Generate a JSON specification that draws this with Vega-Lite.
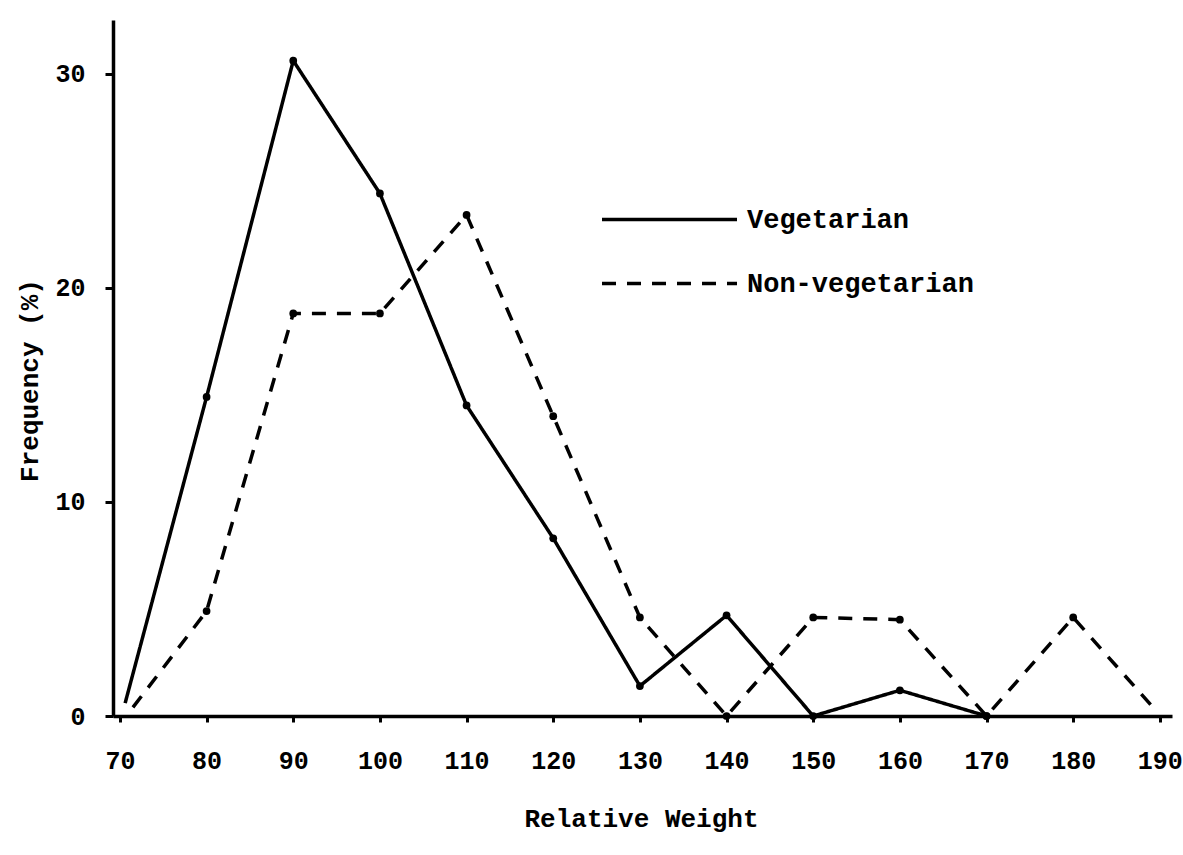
{
  "$schema": "https://vega.github.io/schema/vega-lite/v6.json",
  "autosize": "none",
  "width": 1059,
  "height": 696,
  "padding": {"left": 113, "top": 20, "right": 11, "bottom": 139},
  "background": "white",
  "config": {
    "view": {"stroke": null},
    "font": "Liberation Mono",
    "axis": {
      "domainColor": "black", "domainWidth": 3.5,
      "tickColor": "black", "tickWidth": 3,
      "labelColor": "black", "labelFont": "Liberation Mono", "labelFontWeight": "bold", "labelFontSize": 25,
      "titleColor": "black", "titleFont": "Liberation Mono", "titleFontWeight": "bold", "titleFontSize": 26,
      "grid": false
    }
  },
  "data": {"values": [
    {"series": "Vegetarian", "weight": 70.6, "freq": 0.6},
    {"series": "Vegetarian", "weight": 80, "freq": 14.9},
    {"series": "Vegetarian", "weight": 90, "freq": 30.6},
    {"series": "Vegetarian", "weight": 100, "freq": 24.4},
    {"series": "Vegetarian", "weight": 110, "freq": 14.5},
    {"series": "Vegetarian", "weight": 120, "freq": 8.3},
    {"series": "Vegetarian", "weight": 130, "freq": 1.4},
    {"series": "Vegetarian", "weight": 140, "freq": 4.7},
    {"series": "Vegetarian", "weight": 150, "freq": 0},
    {"series": "Vegetarian", "weight": 160, "freq": 1.2},
    {"series": "Vegetarian", "weight": 170, "freq": 0},
    {"series": "Non-vegetarian", "weight": 71.5, "freq": 0.4},
    {"series": "Non-vegetarian", "weight": 80, "freq": 4.9},
    {"series": "Non-vegetarian", "weight": 90, "freq": 18.8},
    {"series": "Non-vegetarian", "weight": 100, "freq": 18.8},
    {"series": "Non-vegetarian", "weight": 110, "freq": 23.4},
    {"series": "Non-vegetarian", "weight": 120, "freq": 14.0},
    {"series": "Non-vegetarian", "weight": 130, "freq": 4.6},
    {"series": "Non-vegetarian", "weight": 140, "freq": 0},
    {"series": "Non-vegetarian", "weight": 150, "freq": 4.6},
    {"series": "Non-vegetarian", "weight": 160, "freq": 4.5},
    {"series": "Non-vegetarian", "weight": 170, "freq": 0},
    {"series": "Non-vegetarian", "weight": 180, "freq": 4.6},
    {"series": "Non-vegetarian", "weight": 189, "freq": 0.5}
  ]},
  "encoding": {
    "x": {
      "field": "weight", "type": "quantitative",
      "scale": {"domain": [69.2, 191.4], "nice": false, "zero": false},
      "axis": {
        "values": [70, 80, 90, 100, 110, 120, 130, 140, 150, 160, 170, 180, 190],
        "tickSize": 6, "labelPadding": 26, "labelFlush": false,
        "title": "Relative Weight", "titleX": 528, "titleY": 102, "titleBaseline": "middle", "titleAlign": "center"
      }
    },
    "y": {
      "field": "freq", "type": "quantitative",
      "scale": {"domain": [0, 32.5], "nice": false},
      "axis": {
        "values": [0, 10, 20, 30],
        "tickSize": 8, "labelPadding": 20,
        "title": "Frequency (%)", "titleX": -84, "titleY": 360, "titleBaseline": "middle", "titleAlign": "center"
      }
    }
  },
  "layer": [
    {
      "mark": {"type": "line", "color": "black", "strokeWidth": 3.5},
      "encoding": {
        "strokeDash": {
          "field": "series", "type": "nominal",
          "scale": {"domain": ["Vegetarian", "Non-vegetarian"], "range": [[1, 0], [14, 11]]},
          "legend": {
            "title": null, "orient": "none", "legendX": 541, "legendY": 184,
            "symbolType": "M-5,0H5", "symbolSize": 729, "symbolStrokeWidth": 3.5, "symbolStrokeColor": "black",
            "labelFont": "Liberation Mono", "labelFontWeight": "bold", "labelFontSize": 27, "labelColor": "black",
            "labelOffset": 62, "rowPadding": 35, "labelLimit": 400
          }
        }
      }
    },
    {
      "transform": [{"filter": "datum.weight >= 75 && datum.weight <= 185"}],
      "mark": {"type": "point", "filled": true, "color": "black", "size": 60, "opacity": 1}
    }
  ]
}
